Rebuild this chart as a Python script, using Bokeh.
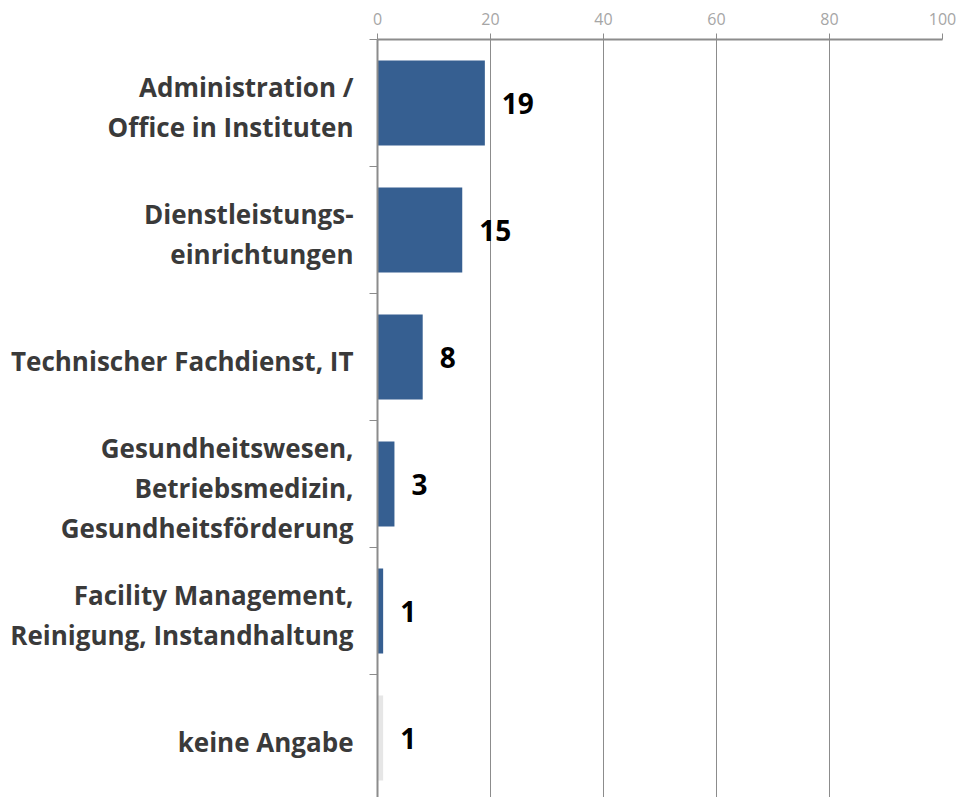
from bokeh.plotting import figure
from bokeh.models import ColumnDataSource, LabelSet, Range1d, FixedTicker
from bokeh.core.properties import value
from bokeh.embed import file_html
from bokeh.resources import INLINE

categories = [
    "Administration /\nOffice in Instituten",
    "Dienstleistungs-\neinrichtungen",
    "Technischer Fachdienst, IT",
    "Gesundheitswesen,\nBetriebsmedizin,\nGesundheitsförderung",
    "Facility Management,\nReinigung, Instandhaltung",
    "keine Angabe",
]
values = [19, 15, 8, 3, 1, 1]
bar_colors = ["#365F91", "#365F91", "#365F91", "#365F91", "#365F91", "#E6E6E6"]
x_ticks = [0, 20, 40, 60, 80, 100]

n = len(categories)
ypos = [n - 1 - i for i in range(n)]

src = ColumnDataSource(dict(
    y=ypos, v=values, c=bar_colors,
    lbl=[str(v) for v in values],
))

W, H = 957, 797
frame_left, frame_right, frame_top = 377, 942, 39
band_px = 127.0
frame_h = H - frame_top
top = n - 0.5
bottom = top - frame_h / band_px

p = figure(width=W, height=H, output_backend="svg", toolbar_location=None,
           x_range=Range1d(0, 100), y_range=Range1d(bottom, top),
           x_axis_location="above")
p.min_border_left = frame_left
p.min_border_right = W - frame_right
p.min_border_top = frame_top
p.min_border_bottom = 0
p.outline_line_color = None
p.background_fill_color = "white"
p.border_fill_color = "white"

p.hbar(y="y", right="v", left=0, height=0.67, color="c", source=src, line_color=None)

# x axis (top)
xa = p.xaxis[0]
xa.ticker = FixedTicker(ticks=x_ticks)
xa.axis_line_color = "#8c8c8c"
xa.axis_line_width = 2
xa.major_tick_line_color = "#8c8c8c"
xa.major_tick_out = 6
xa.major_tick_in = 0
xa.minor_tick_line_color = None
xa.major_label_text_font = "Open Sans"
xa.major_label_text_font_size = "16px"
xa.major_label_text_color = "#a6a6a6"
xa.major_label_standoff = 9

p.xgrid.grid_line_color = "#8c8c8c"
p.xgrid.grid_line_width = 1
p.xgrid.ticker = FixedTicker(ticks=x_ticks)
p.ygrid.grid_line_color = None

# y axis: category labels + separators
label_shift = 4.0 / band_px
label_pos = [y - label_shift for y in ypos]
ya = p.yaxis[0]
ya.ticker = FixedTicker(ticks=label_pos, minor_ticks=[i + 0.5 for i in range(-1, n)])
ya.major_label_overrides = {y: c for y, c in zip(label_pos, categories)}
ya.axis_line_color = "#8c8c8c"
ya.axis_line_width = 2
ya.major_tick_line_color = None
ya.major_tick_out = 0
ya.major_tick_in = 0
ya.minor_tick_line_color = "#8c8c8c"
ya.minor_tick_out = 8
ya.minor_tick_in = 0
ya.major_label_text_font = "Open Sans"
ya.major_label_text_font_style = "bold"
ya.major_label_text_font_size = "26px"
ya.major_label_text_color = "#3a3a3a"
ya.major_label_text_line_height = 1.1
ya.major_label_text_align = "right"
ya.major_label_standoff = 16

val_labels = LabelSet(x="v", y="y", text="lbl", source=src, x_offset=17,
                      text_align="left", text_baseline="middle",
                      text_font=value("Open Sans"), text_font_style="bold",
                      text_font_size="28px", text_color="black")
p.add_layout(val_labels)

open("out.html", "w").write(file_html(p, INLINE))
